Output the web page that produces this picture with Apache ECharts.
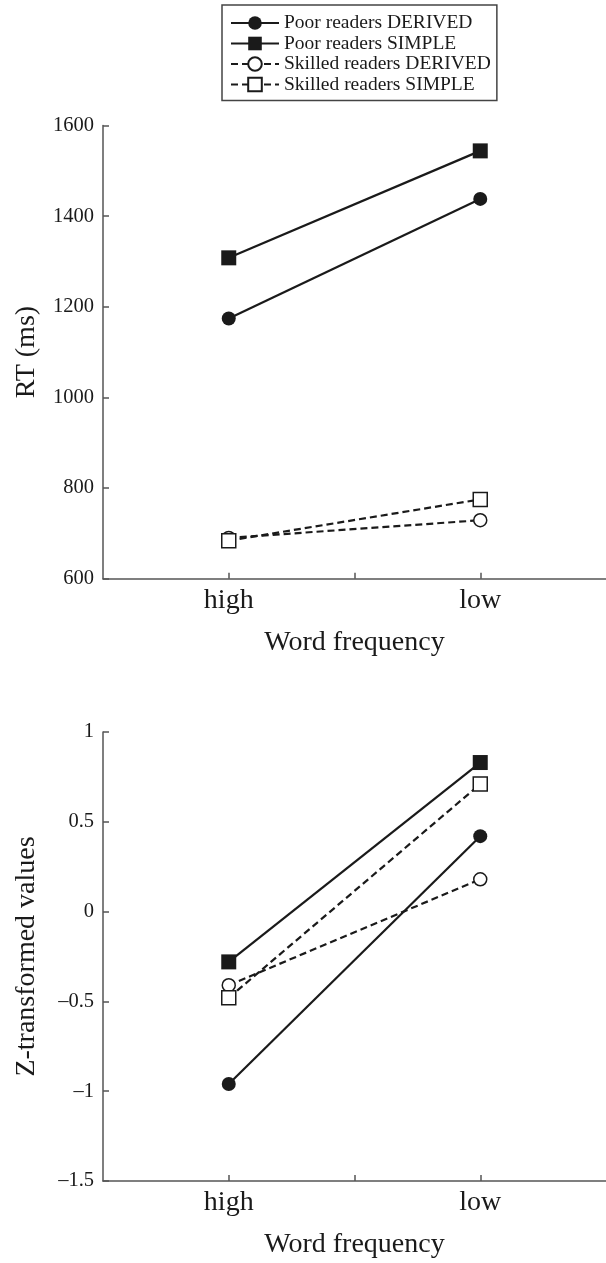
<!DOCTYPE html>
<html>
<head>
<meta charset="utf-8">
<script src="https://cdn.jsdelivr.net/npm/echarts@6/dist/echarts.min.js"></script>
<style>
html,body{margin:0;padding:0;background:#fff;}
#chart{width:606px;height:1263px;}
</style>
</head>
<body>
<div id="chart"></div>
<script>
// ---- data ----
const categories = ['high', 'low'];
const seriesNames = ['Poor readers DERIVED', 'Poor readers SIMPLE', 'Skilled readers DERIVED', 'Skilled readers SIMPLE'];
// top panel: RT (ms)
const rtPoorDerived = [1174, 1438];
const rtPoorSimple = [1308, 1544];
const rtSkilledDerived = [690, 729];
const rtSkilledSimple = [684, 775];
// bottom panel: Z-transformed values
const zPoorDerived = [-0.96, 0.42];
const zPoorSimple = [-0.28, 0.83];
const zSkilledDerived = [-0.41, 0.18];
const zSkilledSimple = [-0.48, 0.71];
// tick values
const rtTicks = [600, 800, 1000, 1200, 1400, 1600];
const zTicks = [-1.5, -1, -0.5, 0, 0.5, 1];

// ---- layout/style ----
const FONT = 'Liberation Serif';
const INK = '#1a1a1a';
const AXIS = '#555';
const xSlots = [1, 3]; // positions of categories on the 0..4 axis

const styles = [
  {symbol: 'circle', size: 14, fill: INK, dash: 'solid'},
  {symbol: 'rect', size: 15, fill: INK, dash: 'solid'},
  {symbol: 'circle', size: 13, fill: '#fff', dash: [7, 4]},
  {symbol: 'rect', size: 14, fill: '#fff', dash: [7, 4]}
];

function mkSeries(name, vals, st, idx) {
  return {
    name: name,
    type: 'line',
    xAxisIndex: idx,
    yAxisIndex: idx,
    data: vals.map((v, i) => [xSlots[i], v]),
    symbol: st.symbol,
    symbolSize: st.size,
    showSymbol: true,
    lineStyle: {color: INK, width: 2.2, type: st.dash},
    itemStyle: {color: st.fill, borderColor: INK, borderWidth: st.fill === '#fff' ? 1.5 : 0},
    emphasis: {disabled: true},
    animation: false
  };
}

const fmtNum = v => String(v).replace('-', '\u2013');

function xAxisCfg(idx) {
  return {
    type: 'value', gridIndex: idx, min: 0, max: 4,
    name: 'Word frequency', nameLocation: 'middle', nameGap: 50,
    nameTextStyle: {fontFamily: FONT, fontSize: 28, color: INK},
    axisLine: {show: true, onZero: false, lineStyle: {color: AXIS, width: 1.5}},
    axisTick: {show: true, inside: true, length: 6, customValues: [1, 2, 3], lineStyle: {color: AXIS, width: 1.5}},
    axisLabel: {
      customValues: xSlots,
      formatter: v => categories[xSlots.indexOf(v)] || '',
      fontFamily: FONT, fontSize: 28, color: INK, margin: 8
    },
    splitLine: {show: false}
  };
}

function yAxisCfg(idx, name, ticks, gap) {
  return {
    type: 'value', gridIndex: idx,
    min: ticks[0], max: ticks[ticks.length - 1], interval: ticks[1] - ticks[0],
    name: name, nameLocation: 'middle', nameGap: gap,
    nameTextStyle: {fontFamily: FONT, fontSize: 28, color: INK},
    axisLine: {show: true, lineStyle: {color: AXIS, width: 1.5}},
    axisTick: {show: true, inside: true, length: 6, lineStyle: {color: AXIS, width: 1.5}},
    axisLabel: {formatter: fmtNum, fontFamily: FONT, fontSize: 20.5, color: INK, margin: 9},
    splitLine: {show: false}
  };
}

const chart = echarts.init(document.getElementById('chart'), null, {renderer: 'canvas'});
const topVals = [rtPoorDerived, rtPoorSimple, rtSkilledDerived, rtSkilledSimple];
const botVals = [zPoorDerived, zPoorSimple, zSkilledDerived, zSkilledSimple];
const series = [];
seriesNames.forEach((n, i) => series.push(mkSeries(n, topVals[i], styles[i], 0)));
seriesNames.forEach((n, i) => series.push(mkSeries(n, botVals[i], styles[i], 1)));

chart.setOption({
  animation: false,
  backgroundColor: '#fff',
  legend: {
    data: seriesNames,
    orient: 'vertical',
    left: 222, top: 5,
    itemWidth: 48, itemHeight: 17, itemGap: 0.5,
    padding: [8, 6, 6, 8],
    borderColor: '#444', borderWidth: 1.5,
    backgroundColor: '#fff',
    selectedMode: false,
    textStyle: {fontFamily: FONT, fontSize: 19.5, color: INK, lineHeight: 20}
  },
  grid: [
    {left: 103, right: 0, top: 125.5, height: 453.2, containLabel: false},
    {left: 103, right: 0, top: 732, height: 449, containLabel: false}
  ],
  xAxis: [xAxisCfg(0), xAxisCfg(1)],
  yAxis: [yAxisCfg(0, 'RT (ms)', rtTicks, 62), yAxisCfg(1, 'Z-transformed values', zTicks, 62)],
  series: series
});
</script>
</body>
</html>
